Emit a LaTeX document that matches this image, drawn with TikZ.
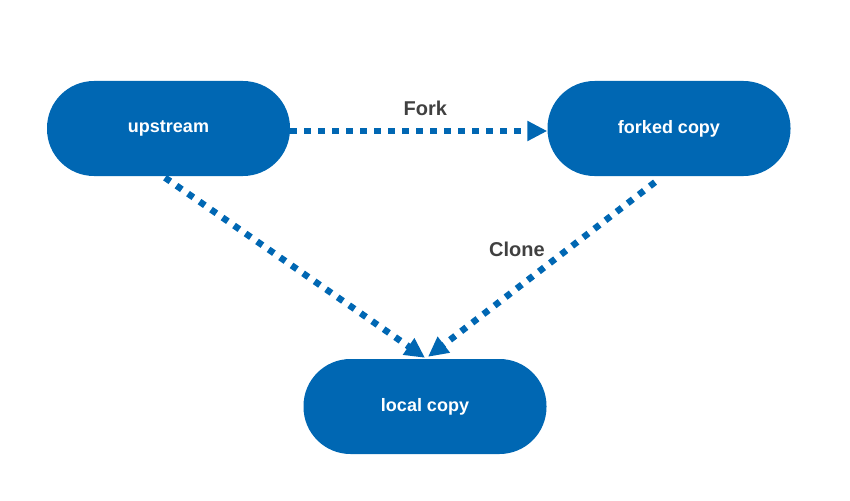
\documentclass[tikz,border=0pt]{standalone}
\usepackage{fontspec}
\setmainfont{Liberation Sans}
\usepackage{xcolor}
\usepackage{tikz}
\usetikzlibrary{shapes,arrows.meta,positioning}

\definecolor{repoblue}{HTML}{0067B3}
\definecolor{labelgray}{HTML}{404040}

\begin{document}
\begin{tikzpicture}[x=1pt, y=-1pt]
    % Define styles
    \tikzstyle{repo} = [rectangle, fill=repoblue, text=white, font=\fontsize{18}{21}\selectfont\bfseries, minimum width=243pt, minimum height=95pt, rounded corners=47pt]
    \tikzstyle{flow} = [repoblue, line width=6.5pt, dash pattern=on 6.5pt off 7.5pt, -{Triangle[length=20pt, width=19pt]}]
    \tikzstyle{flowlabel} = [text=labelgray, inner sep=0pt, font=\fontsize{20}{24}\selectfont\bfseries]

    \useasboundingbox (0,0) rectangle (850,500);

    % Nodes
    \node [repo] (upstream) at (168.5,128.5) {upstream};
    \node [repo] (forked) at (669,128.5) {forked copy};
    \node [repo] (local) at (425,406.5) {local copy};

    % Arrows
    \draw [flow] ([yshift=-2.5pt]upstream.east) -- ([yshift=-2.5pt]forked.west) node[flowlabel, midway, above=12pt, xshift=6.5pt] {Fork};
    \draw [flow] ([xshift=-3.5pt, yshift=-1.5pt]upstream.south) -- ([yshift=1pt]local.north);
    \draw [flow] ([xshift=-14pt, yshift=-6pt]forked.south) -- ([xshift=3pt, yshift=2pt]local.north) node[flowlabel, midway, xshift=-24.5pt, yshift=20pt] {Clone};
\end{tikzpicture}
\end{document}
